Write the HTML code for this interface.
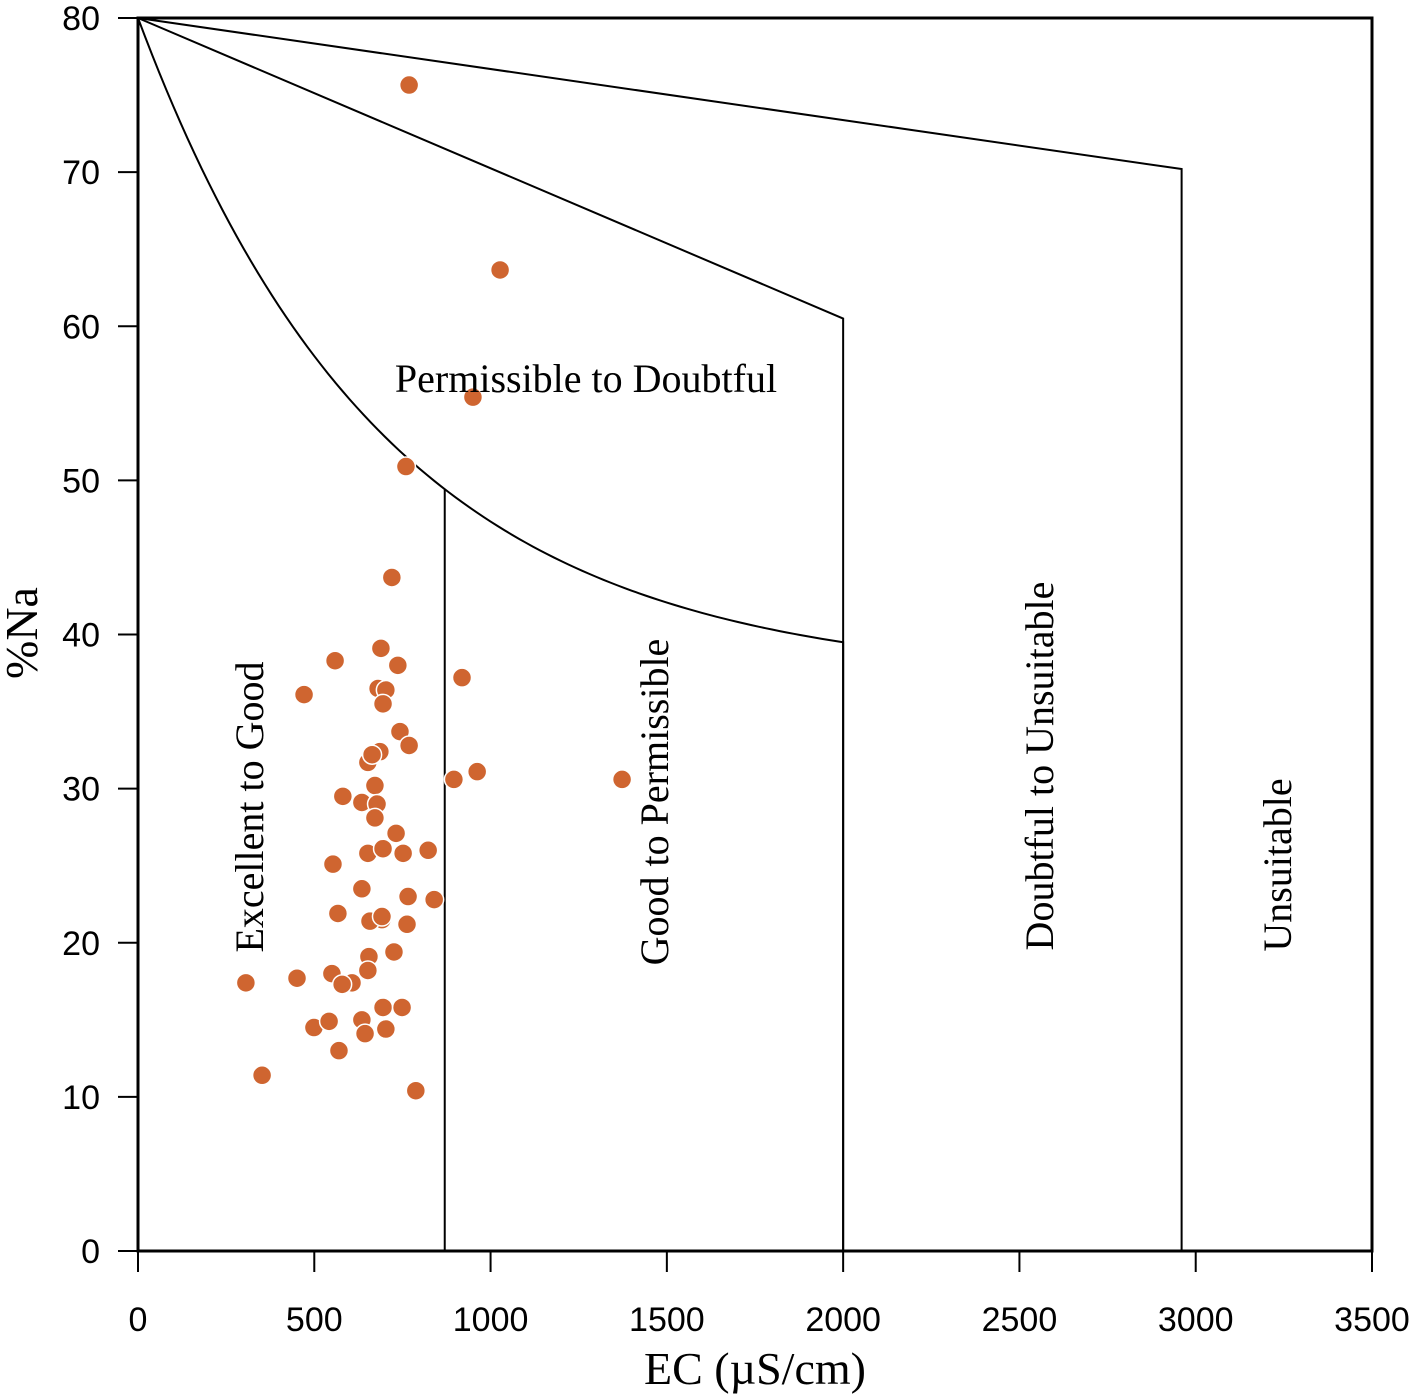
<!DOCTYPE html>
<html><head><meta charset="utf-8"><style>
html,body{margin:0;padding:0;background:#fff;}
svg{display:block;}
</style></head><body>
<svg id="chart" width="1418" height="1399" viewBox="0 0 1418 1399" xmlns="http://www.w3.org/2000/svg">
<g id="plot"></g>
</svg>
<script>
const xTicks=[0,500,1000,1500,2000,2500,3000,3500];
const yTicks=[0,10,20,30,40,50,60,70,80];
const ecValues=[769,1027,950,760,720,559,689,737,471,681,703,695,919,743,769,686,652,664,896,962,1373,581,672,635,678,672,732,652,695,752,823,553,635,766,840,567,692,658,692,763,726,655,652,550,607,451,306,579,499,542,635,644,695,749,703,570,352,788];
const naValues=[75.65,63.65,55.4,50.9,43.7,38.3,39.1,38.0,36.1,36.5,36.4,35.5,37.2,33.7,32.8,32.4,31.7,32.2,30.6,31.1,30.6,29.5,30.2,29.1,29.0,28.1,27.1,25.8,26.1,25.8,26.0,25.1,23.5,23.0,22.8,21.9,21.5,21.4,21.7,21.2,19.4,19.1,18.2,18.0,17.4,17.7,17.4,17.3,14.5,14.9,15.0,14.1,15.8,15.8,14.4,13.0,11.4,10.4];
const outerLine=[[0,80],[2960,70.2],[2960,0]];
const midLine=[[0,80],[2000,60.5],[2000,0]];
const curveEnd=2000, curveB=700, curveA=42.97;
const splitX=870;

const X0=138,X1=1372,Y0=1251,Y1=18;
const sx=v=>X0+(v-0)/(3500)*(X1-X0);
const sy=v=>Y0-(v/80)*(Y0-Y1);
const NS="http://www.w3.org/2000/svg";
const g=document.getElementById('plot');
function mk(t,a){const e=document.createElementNS(NS,t);for(const k in a)e.setAttribute(k,a[k]);g.appendChild(e);return e;}

let e=mk('polyline',{points:outerLine.map(p=>sx(p[0])+','+sy(p[1])).join(' '),fill:'none',stroke:'#000','stroke-width':2});


e=mk('polyline',{points:midLine.map(p=>sx(p[0])+','+sy(p[1])).join(' '),fill:'none',stroke:'#000','stroke-width':2});


const cy=x=>80-curveA*(1-Math.exp(-x/curveB));
let pts=[];for(let x=0;x<=curveEnd;x+=20)pts.push(sx(x)+','+sy(cy(x)));
pts.push(sx(curveEnd)+','+sy(0));
e=mk('polyline',{points:pts.join(' '),fill:'none',stroke:'#000','stroke-width':2});


e=mk('line',{x1:sx(splitX),y1:sy(cy(splitX)),x2:sx(splitX),y2:sy(0),stroke:'#000','stroke-width':2});



e=mk('rect',{x:X0,y:Y1,width:X1-X0,height:Y0-Y1,fill:'none',stroke:'#000','stroke-width':3});



xTicks.forEach(t=>{
 const l=mk('line',{x1:sx(t),y1:Y0,x2:sx(t),y2:Y0+21,stroke:'#000','stroke-width':2});
 
 
 const tx=mk('text',{x:sx(t),y:1331,'text-anchor':'middle','font-family':'Liberation Sans, sans-serif','font-size':34});
 tx.textContent=t;
 
 
});
yTicks.forEach(t=>{
 const l=mk('line',{x1:X0-20,y1:sy(t),x2:X0,y2:sy(t),stroke:'#000','stroke-width':2});
 
 
 const tx=mk('text',{x:100,y:sy(t)+12,'text-anchor':'end','font-family':'Liberation Sans, sans-serif','font-size':34});
 tx.textContent=t;
 
 
});

ecValues.forEach((v,i)=>{
 const c=mk('circle',{cx:sx(v),cy:sy(naValues[i]),r:9.5,fill:'#CF6530',stroke:'#fff','stroke-width':1.5});
 
 
});

function lbl(txt,x,y,rot,size,name){
 const t=mk('text',{x:x,y:y,'text-anchor':'middle','font-family':'Liberation Serif, serif','font-size':size,transform:rot?`rotate(-90 ${x} ${y})`:''});
 t.textContent=txt;
 
 
}
lbl('Permissible to Doubtful',586,392,false,40,'zone-label-permissible-doubtful');
lbl('Excellent to Good',263,807,true,40,'zone-label-excellent-good');
lbl('Good to Permissible',668,802,true,40,'zone-label-good-permissible');
lbl('Doubtful to Unsuitable',1053,766,true,40,'zone-label-doubtful-unsuitable');
lbl('Unsuitable',1291,865,true,40,'zone-label-unsuitable');
lbl('EC (\u00b5S/cm)',755,1384,false,46,'x-axis-title');
lbl('%Na',37,633,true,46,'y-axis-title');
</script>
</body></html>
